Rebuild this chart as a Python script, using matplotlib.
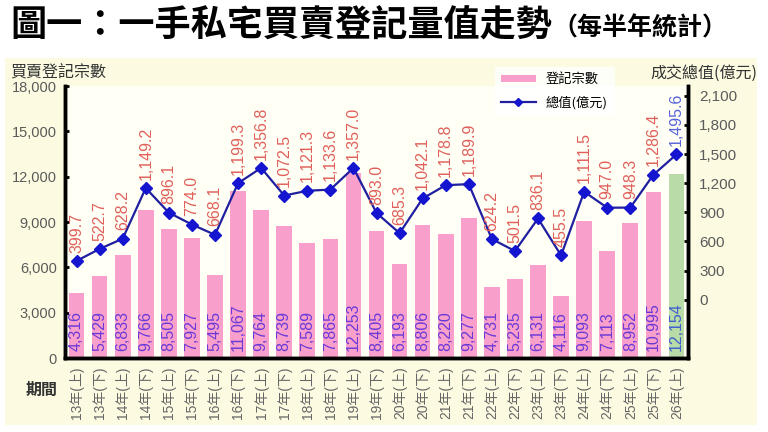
import matplotlib
matplotlib.use("Agg")
import matplotlib.pyplot as plt
from matplotlib.patches import Patch
from matplotlib.lines import Line2D
from matplotlib.ticker import FuncFormatter

plt.rcParams['font.family'] = ['Liberation Sans', 'Noto Sans CJK TC', 'DejaVu Sans']

periods = ["13年(上)", "13年(下)", "14年(上)", "14年(下)", "15年(上)", "15年(下)",
           "16年(上)", "16年(下)", "17年(上)", "17年(下)", "18年(上)", "18年(下)",
           "19年(上)", "19年(下)", "20年(上)", "20年(下)", "21年(上)", "21年(下)",
           "22年(上)", "22年(下)", "23年(上)", "23年(下)", "24年(上)", "24年(下)",
           "25年(上)", "25年(下)", "26年(上)"]
counts = [4316, 5429, 6833, 9766, 8505, 7927, 5495, 11067, 9764, 8739, 7589, 7865,
          12253, 8405, 6193, 8806, 8220, 9277, 4731, 5235, 6131, 4116, 9093, 7113,
          8952, 10995, 12154]
values = [399.7, 522.7, 628.2, 1149.2, 896.1, 774.0, 668.1, 1199.3, 1356.8, 1072.5,
          1121.3, 1133.6, 1357.0, 893.0, 685.3, 1042.1, 1178.8, 1189.9, 624.2, 501.5,
          836.1, 455.5, 1111.5, 947.0, 948.3, 1286.4, 1495.6]
left_ticks = [0, 3000, 6000, 9000, 12000, 15000, 18000]
right_ticks = [0, 300, 600, 900, 1200, 1500, 1800, 2100]

PINK = '#f99fcb'
GREEN = '#b8dba8'
LINE = '#1f1fa0'
MARK = '#1515d0'
RED = '#e0605a'
PURPLE = '#6a3ad8'
BLUE_LAST = '#3f5fd0'
GRAY = '#5a5a5a'

fig = plt.figure(figsize=(7.68, 4.32), dpi=100)
fig.patch.set_facecolor('white')

bg = fig.add_axes([5/768, 1 - 425/432, 752/768, 367/432], zorder=-5)
bg.set_facecolor('#fcfbe2')
bg.set_xticks([]); bg.set_yticks([])
for s in bg.spines.values():
    s.set_visible(False)

ax = fig.add_axes([65/768, 1 - 358/432, 623/768, 272/432])
ax.set_facecolor('#fffff6')
ax2 = ax.twinx()

n = len(periods)
x = list(range(n))
colors = [PINK] * (n - 1) + [GREEN]
ax.bar(x, counts, width=0.68, color=colors, zorder=2)
ax.set_xlim(-0.5, n - 0.5)
ax.set_ylim(0, 18000)
ax.set_yticks(left_ticks)
ax.yaxis.set_major_formatter(FuncFormatter(lambda v, p: f"{int(v):,}"))
ax.tick_params(axis='y', direction='in', length=3, width=2, colors='black',
               labelcolor=GRAY, labelsize=10.5, pad=6)
ax.set_xticks(x)
ax.set_xticklabels(periods, rotation=90, color='#666666', fontsize=10)
ax.tick_params(axis='x', length=0, pad=6)

for i, c in enumerate(counts):
    col = BLUE_LAST if i == n - 1 else PURPLE
    ax.annotate(f"{c:,}", (i, 0), xytext=(0, 5), textcoords='offset points',
                rotation=90, ha='center', va='bottom', color=col, fontsize=11.5,
                zorder=5)

ax2.plot(x, values, color=LINE, lw=1.6, marker='D', ms=6.5, mfc=MARK, mec=MARK, zorder=4)
ax2.set_ylim(-600, 2200)
ax2.set_yticks(right_ticks)
ax2.yaxis.set_major_formatter(FuncFormatter(lambda v, p: f"{int(v):,}"))
ax2.tick_params(axis='y', direction='in', length=3, width=2, colors='black',
                labelcolor=GRAY, labelsize=11, pad=8)
for i, v in enumerate(values):
    col = '#5865d8' if i == n - 1 else RED
    ax2.annotate(f"{v:,.1f}", (i, v), xytext=(0, 6), textcoords='offset points',
                 rotation=90, ha='center', va='bottom', color=col, fontsize=11.5,
                 zorder=5)

for a in (ax, ax2):
    a.spines['top'].set_visible(False)
    a.spines['left'].set_linewidth(2.5)
    a.spines['right'].set_linewidth(2.5)
    a.spines['bottom'].set_linewidth(2.5)

# Title
fig.text(10/768, 1 - 26/432, "圖一：一手私宅買賣登記量值走勢", fontsize=26,
         fontweight='bold', family=['Noto Sans CJK TC'], va='center', ha='left')
fig.text(552/768, 1 - 28/432, "（每半年統計）", fontsize=18,
         fontweight='bold', family=['Noto Sans CJK TC'], va='center', ha='left')

# Axis titles
fig.text(10/768, 1 - 73/432, "買賣登記宗數", fontsize=11.5, color='#333333',
         family=['Noto Sans CJK TC'], va='center', ha='left')
fig.text(757/768, 1 - 73/432, "成交總值(億元)", fontsize=11.5, color='#333333',
         family=['Noto Sans CJK TC'], va='center', ha='right')
fig.text(42/768, 1 - 390/432, "期間", fontsize=11.5, fontweight='bold',
         color='#333333', family=['Noto Sans CJK TC'], va='center', ha='center')

# Legend
handles = [Patch(facecolor=PINK, edgecolor='none'),
           Line2D([], [], color=LINE, lw=1.6, marker='D', ms=4, mfc=MARK, mec=MARK)]
leg = fig.legend(handles, ["登記宗數", "總值(億元)"], loc='upper left',
                 bbox_to_anchor=(488/768, 1 - 60/432), frameon=True,
                 prop={'family': ['Noto Sans CJK TC'], 'size': 9.5},
                 handlelength=2.6, handleheight=0.5, labelspacing=0.7,
                 borderpad=0.5, fancybox=False)
leg.get_frame().set_facecolor('white')
leg.get_frame().set_edgecolor('none')

fig.savefig("out.png", dpi=100)
